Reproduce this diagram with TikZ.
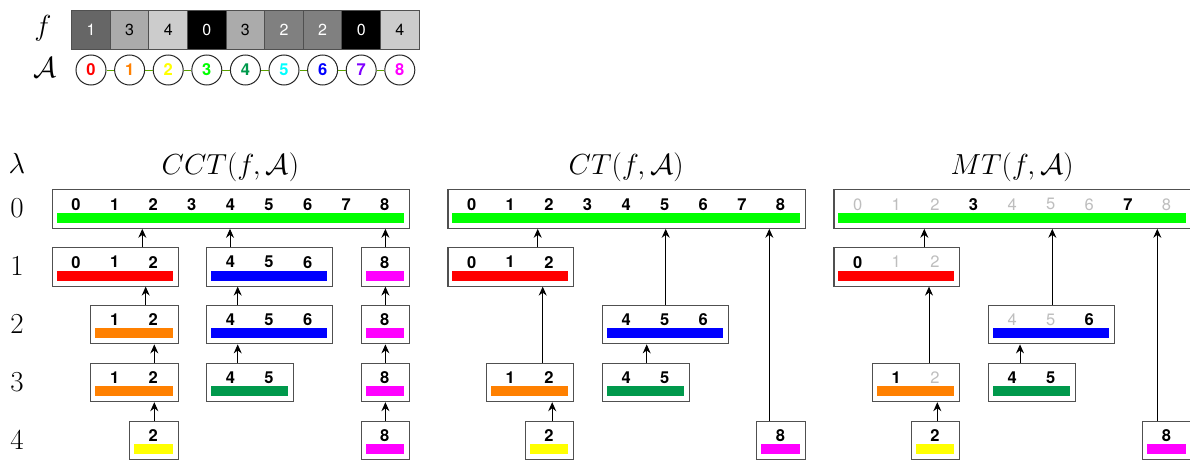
\RequirePackage{fix-cm}
\documentclass[tikz,border=0pt]{standalone}
\usepackage{fontspec}
\usepackage{amsmath,amssymb}
\usepackage{xcolor}
\usepackage{tikz}
\usetikzlibrary{arrows.meta,positioning,calc}
\newfontfamily\heros{TeX Gyre Heros}

% vertex colours
\definecolor{v0}{RGB}{255,0,0}
\definecolor{v1}{RGB}{255,128,0}
\definecolor{v2}{RGB}{255,255,0}
\definecolor{v3}{RGB}{0,255,0}
\definecolor{v4}{RGB}{0,153,76}
\definecolor{v5}{RGB}{0,255,255}
\definecolor{v6}{RGB}{0,0,255}
\definecolor{v7}{RGB}{128,0,255}
\definecolor{v8}{RGB}{255,0,255}
\definecolor{edgegreen}{RGB}{90,160,0}
\definecolor{boxgray}{RGB}{80,80,80}
\definecolor{offgray}{RGB}{190,190,190}

\begin{document}
\begin{tikzpicture}[
  x=1pt, y=-1pt,
  cbox/.style={draw=boxgray, line width=1.1pt, fill=white, inner sep=0pt, minimum height=38.4},
  dg/.style={font=\heros\bfseries\fontsize{16.5}{18}\selectfont, text=black, inner sep=0pt},
  dgoff/.style={font=\heros\fontsize{16.5}{18}\selectfont, text=offgray, inner sep=0pt},
  lvl/.style={font=\fontsize{29}{32}\selectfont, inner sep=0pt},
  arr/.style={-{Stealth[length=9pt,width=8pt,inset=3pt]}, line width=1pt},
  cell/.style={draw=boxgray, line width=1pt, minimum width=38.6, minimum height=38.6, inner sep=0pt, font=\heros\fontsize{16}{18}\selectfont},
  fval0/.style={fill=black, text=white},
  fval1/.style={fill=black!60, text=white},
  fval2/.style={fill=black!50, text=white},
  fval3/.style={fill=black!33, text=black},
  fval4/.style={fill=black!20, text=black},
  vtx/.style={circle, draw=black!85, line width=1pt, fill=white, minimum size=30, inner sep=0pt, font=\heros\bfseries\fontsize{16.5}{18}\selectfont},
  edge/.style={draw=edgegreen, line width=1pt},
]
\useasboundingbox (0,0) rectangle (1190,460);
\clip (0,0) rectangle (1190,460);

% component box: name, level, first, last, bar colour, digits
\def\comp#1#2#3#4#5#6{%
  \pgfmathsetmacro\xa{\off+76+38.6*#3-24.3}
  \pgfmathsetmacro\xb{\off+76+38.6*#4+24.3}
  \pgfmathsetmacro\ya{189.3+57.8*#2}
  \node[cbox, anchor=north west, minimum width={\xb-\xa}] (#1) at (\xa,\ya) {};
  \fill[#5] (\xa+5,\ya+23.4) rectangle (\xb-5,\ya+33.4);
  \foreach \d/\s in {#6} \node[\s] at ({\off+76+38.6*\d},\ya+15) {\d};
}
% child -> parent, at x
\def\link#1#2#3{\draw[arr] (\off+#3,0 |- #1.north) -- (\off+#3,0 |- #2.south);}

% --- f and A ---
\node[lvl, anchor=base] (flbl) at (43,36) {$f$};
\node[lvl, anchor=base] (albl) at (45,77.5) {$\mathcal{A}$};
\foreach \v [count=\i from 0] in {1,3,4,0,3,2,2,0,4}
  \node[cell, fval\v] (f\i) at (91+38.6*\i,30) {\v};
\foreach \i in {0,...,8}
  \node[vtx, text=v\i] (a\i) at (91+38.6*\i,70) {\i};
\foreach \i [evaluate=\i as \j using int(\i+1)] in {0,...,7}
  \draw[edge] (a\i) -- (a\j);

% --- levels ---
\node[lvl, anchor=base] (lam) at (17,173) {$\lambda$};
\foreach \k in {0,...,4}
  \node[lvl] (lv\k) at (17,208.5+57.8*\k) {$\k$};

% --- CCT ---
\def\off{0}
\node[lvl, anchor=base] (tcct) at (230.4,174) {$CCT(f,\mathcal{A})$};
\comp{cct0}{0}{0}{8}{v3}{0/dg,1/dg,2/dg,3/dg,4/dg,5/dg,6/dg,7/dg,8/dg}
\comp{cct1a}{1}{0}{2}{v0}{0/dg,1/dg,2/dg}
\comp{cct1b}{1}{4}{6}{v6}{4/dg,5/dg,6/dg}
\comp{cct1c}{1}{8}{8}{v8}{8/dg}
\comp{cct2a}{2}{1}{2}{v1}{1/dg,2/dg}
\comp{cct2b}{2}{4}{6}{v6}{4/dg,5/dg,6/dg}
\comp{cct2c}{2}{8}{8}{v8}{8/dg}
\comp{cct3a}{3}{1}{2}{v1}{1/dg,2/dg}
\comp{cct3b}{3}{4}{5}{v4}{4/dg,5/dg}
\comp{cct3c}{3}{8}{8}{v8}{8/dg}
\comp{cct4a}{4}{2}{2}{v2}{2/dg}
\comp{cct4c}{4}{8}{8}{v8}{8/dg}
\link{cct1a}{cct0}{142.3}
\link{cct1b}{cct0}{230}
\link{cct1c}{cct0}{385.4}
\link{cct2a}{cct1a}{145.7}
\link{cct2b}{cct1b}{237.7}
\link{cct2c}{cct1c}{385.4}
\link{cct3a}{cct2a}{154.3}
\link{cct3b}{cct2b}{237.7}
\link{cct3c}{cct2c}{385.4}
\link{cct4a}{cct3a}{154.3}
\link{cct4c}{cct3c}{385.4}

% --- CT ---
\def\off{395.7}
\node[lvl, anchor=base] (tct) at (\off+230.4,174) {$CT(f,\mathcal{A})$};
\comp{ct0}{0}{0}{8}{v3}{0/dg,1/dg,2/dg,3/dg,4/dg,5/dg,6/dg,7/dg,8/dg}
\comp{ct1a}{1}{0}{2}{v0}{0/dg,1/dg,2/dg}
\comp{ct2b}{2}{4}{6}{v6}{4/dg,5/dg,6/dg}
\comp{ct3a}{3}{1}{2}{v1}{1/dg,2/dg}
\comp{ct3b}{3}{4}{5}{v4}{4/dg,5/dg}
\comp{ct4a}{4}{2}{2}{v2}{2/dg}
\comp{ct4c}{4}{8}{8}{v8}{8/dg}
\link{ct1a}{ct0}{142}
\link{ct3a}{ct1a}{147}
\link{ct2b}{ct0}{270}
\link{ct3b}{ct2b}{251}
\link{ct4a}{ct3a}{156.5}
\link{ct4c}{ct0}{373.6}

% --- MT ---
\def\off{781.7}
\node[lvl, anchor=base] (tmt) at (\off+230.4,174) {$MT(f,\mathcal{A})$};
\comp{mt0}{0}{0}{8}{v3}{0/dgoff,1/dgoff,2/dgoff,3/dg,4/dgoff,5/dgoff,6/dgoff,7/dg,8/dgoff}
\comp{mt1a}{1}{0}{2}{v0}{0/dg,1/dgoff,2/dgoff}
\comp{mt2b}{2}{4}{6}{v6}{4/dgoff,5/dgoff,6/dg}
\comp{mt3a}{3}{1}{2}{v1}{1/dg,2/dgoff}
\comp{mt3b}{3}{4}{5}{v4}{4/dg,5/dg}
\comp{mt4a}{4}{2}{2}{v2}{2/dg}
\comp{mt4c}{4}{8}{8}{v8}{8/dg}
\link{mt1a}{mt0}{142.6}
\link{mt3a}{mt1a}{147.3}
\link{mt2b}{mt0}{270.6}
\link{mt3b}{mt2b}{238.3}
\link{mt4a}{mt3a}{155.6}
\link{mt4c}{mt0}{375.6}

\end{tikzpicture}
\end{document}
